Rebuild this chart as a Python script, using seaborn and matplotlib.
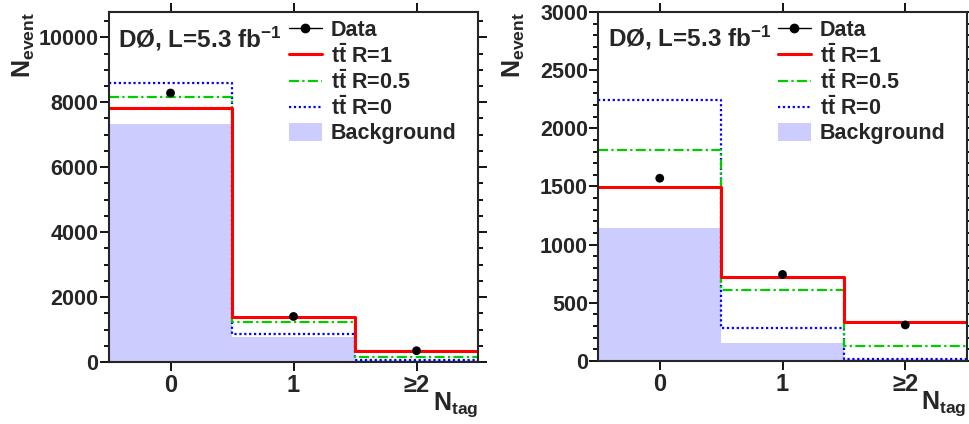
import matplotlib
matplotlib.use("Agg")
import matplotlib.pyplot as plt
import seaborn as sns
from matplotlib.lines import Line2D
from matplotlib.patches import Patch
from matplotlib.ticker import MultipleLocator

# N_tag bins
ntag = [0, 1, 2]
tick_labels = ["0", "1", "\u22652"]
bin_edges = [-0.5, 0.5, 1.5, 2.5]

# left panel
left_data = [8285, 1403, 348]
left_r1 = [7815, 1385, 326]
left_r05 = [8150, 1218, 154]
left_r0 = [8600, 850, 70]
left_bkg = [7330, 757, 55]

# right panel
right_data = [1571, 744, 310]
right_r1 = [1493, 722, 335]
right_r05 = [1814, 608, 126]
right_r0 = [2244, 286, 20]
right_bkg = [1141, 157, 15]

legend_labels = ["Data", r"$t\bar{t}$ R=1", r"$t\bar{t}$ R=0.5",
                 r"$t\bar{t}$ R=0", "Background"]

sns.set_style("ticks")
plt.rcParams["font.family"] = ["Liberation Sans", "DejaVu Sans"]
plt.rcParams["font.weight"] = "bold"
plt.rcParams["mathtext.fontset"] = "custom"
plt.rcParams["mathtext.rm"] = "Liberation Sans:bold"
plt.rcParams["mathtext.it"] = "Liberation Sans:bold"
plt.rcParams["mathtext.bf"] = "Liberation Sans:bold"
plt.rcParams["mathtext.sf"] = "Liberation Sans:bold"
plt.rcParams["mathtext.default"] = "rm"

BKG = "#ccccff"
RED = "#ff0000"
GREEN = "#00cc00"
BLUE = "#0000ff"
blue_ls = (0, (1, 1.2))
green_ls = (0, (4.5, 1.5, 1, 1.5))


def draw_panel(ax, data, r1, r05, r0, bkg, ymax, major, minor):
    sns.histplot(x=ntag, weights=bkg, bins=bin_edges, element="step",
                 fill=True, color=BKG, alpha=1, linewidth=0, ax=ax)
    sns.histplot(x=ntag, weights=r0, bins=bin_edges, element="step",
                 fill=False, color=BLUE, linestyle=blue_ls, linewidth=1.6, ax=ax)
    sns.histplot(x=ntag, weights=r05, bins=bin_edges, element="step",
                 fill=False, color=GREEN, linestyle=green_ls, linewidth=1.6, ax=ax)
    sns.histplot(x=ntag, weights=r1, bins=bin_edges, element="step",
                 fill=False, color=RED, linewidth=2.2, ax=ax)
    sns.scatterplot(x=ntag, y=data, color="black", s=40, edgecolor="none",
                    zorder=5, ax=ax)

    ax.set_xlim(-0.5, 2.5)
    ax.set_ylim(0, ymax)
    ax.set_xticks(ntag, tick_labels)
    ax.yaxis.set_major_locator(MultipleLocator(major))
    ax.yaxis.set_minor_locator(MultipleLocator(minor))
    ax.set_xlabel("")
    ax.set_ylabel("")
    for s in ax.spines.values():
        s.set_visible(True)
        s.set_linewidth(1.5)
    ax.tick_params(axis="both", which="both", direction="out",
                   top=True, right=True, width=1.3, color="black")
    ax.tick_params(axis="both", which="major", length=6.5, pad=1)
    ax.tick_params(axis="y", which="minor", length=3.5)
    ax.tick_params(axis="x", which="minor", bottom=False, top=False)
    ax.tick_params(axis="y", labelsize=15.5)
    ax.tick_params(axis="x", labelsize=17, pad=2)

    ax.text(0.025, 0.9, r"DØ, L=5.3 fb$^{-1}$", transform=ax.transAxes,
            fontsize=17.5, ha="left", va="baseline")
    ax.text(-0.23, 1.0, r"$N_{event}$", transform=ax.transAxes, rotation=90,
            fontsize=18, ha="center", va="top")
    ax.text(1.0, -0.08, r"$N_{tag}$", transform=ax.transAxes,
            fontsize=18, ha="right", va="top")

    handles = [
        Line2D([], [], color="black", marker="o", markersize=6, linewidth=1),
        Line2D([], [], color=RED, linewidth=2.2),
        Line2D([], [], color=GREEN, linestyle=green_ls, linewidth=1.6),
        Line2D([], [], color=BLUE, linestyle=blue_ls, linewidth=1.6),
        Patch(facecolor=BKG, edgecolor="none"),
    ]
    ax.legend(handles, legend_labels, loc="upper left",
              bbox_to_anchor=(0.475, 0.99), frameon=False, fontsize=15.5,
              handlelength=1.55, handletextpad=0.4, labelspacing=0.12,
              handleheight=0.9, borderaxespad=0, borderpad=0.2)


fig = plt.figure(figsize=(9.69, 4.24), dpi=100)
ax1 = fig.add_axes([0.1125, 0.1462, 0.3808, 0.8255])
ax2 = fig.add_axes([0.6175, 0.1486, 0.3801, 0.8231])

draw_panel(ax1, left_data, left_r1, left_r05, left_r0, left_bkg,
           10780, 2000, 500)
draw_panel(ax2, right_data, right_r1, right_r05, right_r0, right_bkg,
           3000, 500, 100)

fig.savefig("out.png", dpi=100)
plt.close(fig)
